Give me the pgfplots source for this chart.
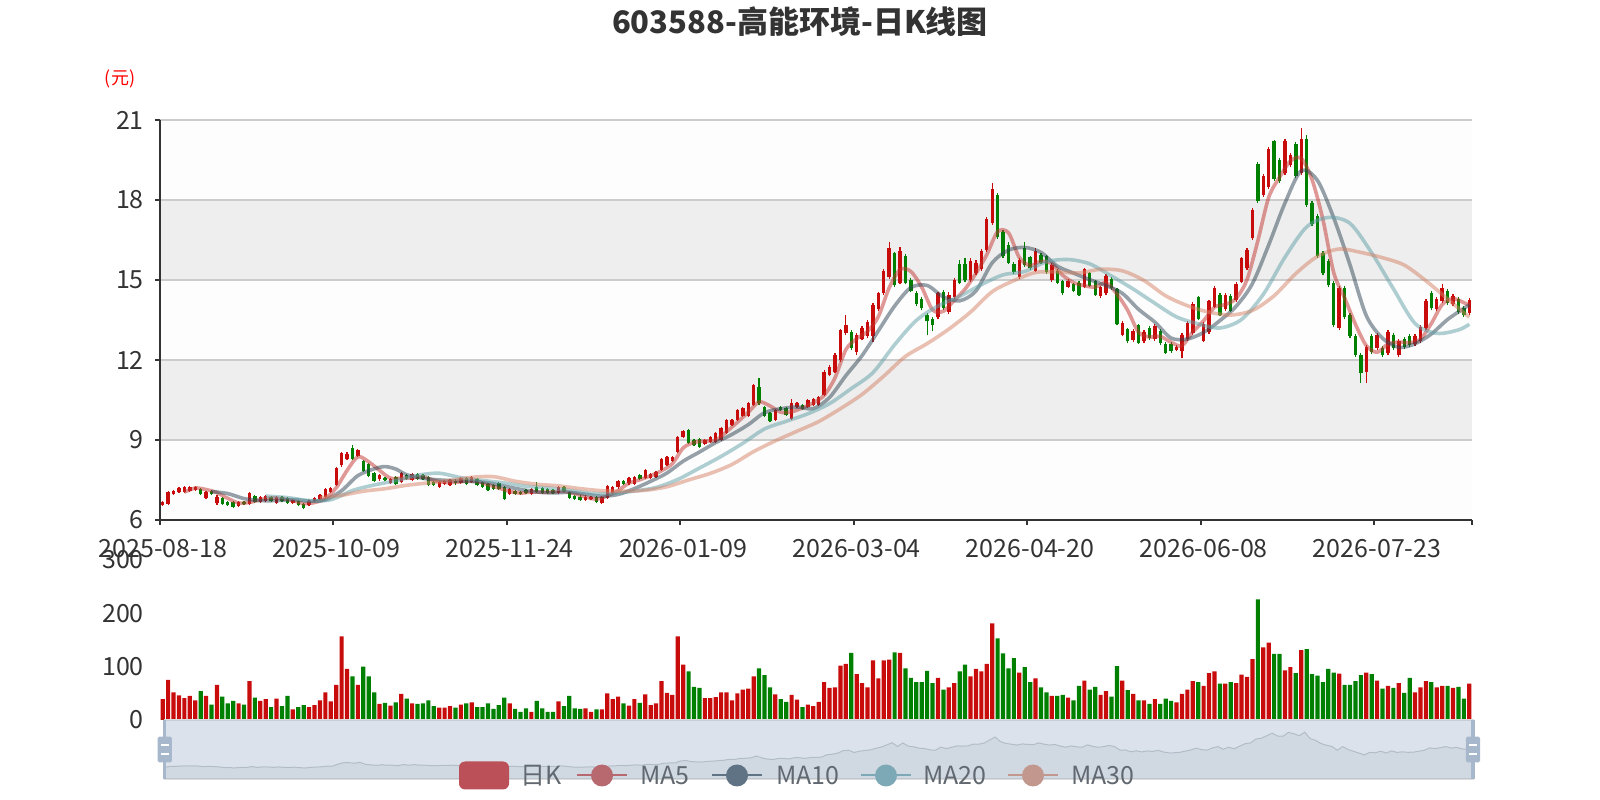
\documentclass[border=0pt]{standalone}
\usepackage{pgfplots}
\pgfplotsset{compat=1.18}
\usepackage{pgfplotstable}
\usepackage{fontspec}
\setmainfont{Noto Sans CJK SC}
\definecolor{upc}{RGB}{200,12,12}
\definecolor{dnc}{RGB}{0,128,0}
\definecolor{ma5}{HTML}{C23531}
\definecolor{ma10}{HTML}{2F4554}
\definecolor{ma20}{HTML}{61A0A8}
\definecolor{ma30}{HTML}{D48265}
\definecolor{txt}{RGB}{51,51,51}
\definecolor{gridc}{RGB}{204,204,204}
\definecolor{bandA}{RGB}{253,253,253}
\definecolor{bandB}{RGB}{238,238,238}
\definecolor{selc}{HTML}{A7B7CC}
\definecolor{shc}{HTML}{2F4554}
\definecolor{lgtxt}{RGB}{97,104,112}
\definecolor{lgk}{RGB}{187,80,89}
\definecolor{lg5}{RGB}{183,105,111}
\definecolor{lg10}{RGB}{95,115,132}
\definecolor{lg20}{RGB}{125,169,182}
\definecolor{lg30}{RGB}{194,151,142}
\newcommand\tk{\fontsize{25}{30}\selectfont}

\pgfplotstableread{
i o c h l v
0 6.56 6.66 6.70 6.52 39
1 6.60 7.04 7.08 6.56 75
2 6.98 7.10 7.14 6.94 52
3 7.05 7.20 7.24 7.01 46
4 7.05 7.22 7.26 7.01 41
5 7.10 7.22 7.26 7.06 45
6 7.12 7.25 7.29 7.08 37
7 7.17 6.96 7.21 6.92 54
8 6.84 7.06 7.10 6.80 45
9 7.10 6.97 7.14 6.93 29
10 6.62 6.88 6.92 6.58 66
11 6.84 6.60 6.88 6.56 44
12 6.68 6.55 6.72 6.51 31
13 6.67 6.48 6.71 6.44 36
14 6.52 6.68 6.72 6.48 31
15 6.66 6.59 6.70 6.55 29
16 6.60 7.00 7.04 6.56 73
17 6.90 6.68 6.94 6.64 42
18 6.68 6.85 6.89 6.64 36
19 6.70 6.90 6.94 6.66 39
20 6.85 6.70 6.89 6.66 24
21 6.65 6.85 6.89 6.61 40
22 6.85 6.70 6.89 6.66 26
23 6.82 6.65 6.86 6.61 45
24 6.65 6.75 6.79 6.61 20
25 6.72 6.55 6.76 6.51 24
26 6.60 6.45 6.64 6.41 28
27 6.55 6.70 6.74 6.51 24
28 6.70 6.82 6.86 6.66 28
29 6.78 6.92 6.96 6.74 37
30 6.88 7.15 7.19 6.84 52
31 7.05 7.20 7.24 7.01 35
32 7.30 7.95 7.99 7.26 66
33 8.05 8.50 8.55 8.00 157
34 8.30 8.48 8.56 8.25 96
35 8.70 8.30 8.80 8.25 82
36 8.40 8.62 8.68 8.35 66
37 8.20 7.85 8.25 7.80 100
38 8.10 7.65 8.15 7.60 82
39 7.75 7.48 7.80 7.44 52
40 7.52 7.70 7.74 7.48 30
41 7.56 7.50 7.60 7.46 32
42 7.38 7.52 7.56 7.34 27
43 7.62 7.35 7.66 7.31 33
44 7.41 7.77 7.81 7.37 49
45 7.69 7.53 7.73 7.49 40
46 7.50 7.72 7.76 7.46 31
47 7.72 7.55 7.76 7.51 30
48 7.68 7.53 7.72 7.49 31
49 7.60 7.31 7.64 7.27 37
50 7.42 7.31 7.46 7.27 26
51 7.25 7.43 7.47 7.21 23
52 7.35 7.47 7.51 7.31 23
53 7.33 7.50 7.54 7.29 26
54 7.48 7.37 7.52 7.33 23
55 7.40 7.58 7.62 7.36 29
56 7.57 7.35 7.61 7.31 31
57 7.42 7.60 7.64 7.38 33
58 7.52 7.32 7.56 7.28 24
59 7.42 7.25 7.46 7.21 24
60 7.35 7.12 7.39 7.08 31
61 7.30 7.15 7.34 7.11 21
62 7.40 7.15 7.44 7.11 28
63 7.22 6.80 7.26 6.76 42
64 6.98 7.15 7.19 6.94 31
65 7.10 6.98 7.14 6.94 21
66 7.05 6.97 7.09 6.93 15
67 7.12 7.00 7.16 6.96 22
68 6.98 7.15 7.19 6.94 15
69 7.22 7.06 7.44 7.02 36
70 7.20 7.02 7.24 6.98 22
71 7.15 7.02 7.19 6.98 15
72 7.12 7.00 7.16 6.96 15
73 7.02 7.25 7.29 6.98 35
74 7.25 7.09 7.29 7.05 26
75 7.05 6.82 7.09 6.78 45
76 6.90 6.78 6.94 6.74 22
77 6.88 6.75 6.92 6.71 21
78 6.75 6.88 6.92 6.71 22
79 6.78 6.85 6.89 6.74 15
80 6.85 6.66 6.89 6.62 20
81 6.63 6.85 6.89 6.59 20
82 6.82 7.28 7.32 6.78 50
83 7.00 7.25 7.29 6.96 39
84 7.22 7.47 7.51 7.18 44
85 7.47 7.35 7.51 7.31 31
86 7.37 7.56 7.60 7.33 27
87 7.35 7.62 7.66 7.31 39
88 7.69 7.54 7.73 7.50 32
89 7.56 7.87 7.91 7.52 48
90 7.56 7.72 7.76 7.52 28
91 7.62 7.81 7.85 7.58 31
92 7.87 8.29 8.33 7.83 73
93 8.06 8.37 8.41 8.02 51
94 8.23 8.37 8.41 8.19 47
95 8.56 9.12 9.16 8.52 157
96 9.10 9.35 9.39 9.06 104
97 9.37 8.90 9.41 8.86 91
98 9.00 8.80 9.04 8.76 62
99 9.05 8.75 9.09 8.71 60
100 8.85 9.00 9.04 8.81 41
101 8.94 9.10 9.14 8.90 41
102 8.94 9.27 9.31 8.90 43
103 9.00 9.44 9.48 8.96 52
104 9.25 9.75 9.79 9.21 52
105 9.56 9.75 9.79 9.52 37
106 9.75 10.12 10.16 9.71 50
107 9.90 10.20 10.24 9.86 57
108 9.90 10.37 10.41 9.86 59
109 10.31 11.06 11.10 10.27 82
110 11.00 10.37 11.31 10.33 97
111 10.25 9.90 10.29 9.86 84
112 10.00 9.70 10.04 9.66 61
113 9.75 10.12 10.16 9.71 48
114 10.25 10.12 10.29 10.08 39
115 10.20 9.95 10.24 9.91 34
116 9.80 10.40 10.52 9.76 47
117 10.25 10.40 10.44 10.21 38
118 10.30 10.15 10.34 10.11 24
119 10.25 10.50 10.54 10.21 29
120 10.31 10.52 10.56 10.27 26
121 10.31 10.62 10.66 10.27 34
122 10.69 11.56 11.62 10.64 71
123 11.44 11.75 11.81 11.39 60
124 11.56 12.19 12.25 11.50 61
125 12.00 13.12 13.18 11.94 102
126 13.00 13.30 13.69 12.94 105
127 13.06 12.45 13.12 12.38 126
128 12.30 12.95 13.00 12.19 86
129 12.80 13.20 13.26 12.74 69
130 12.90 13.44 13.50 12.84 61
131 12.90 14.05 14.12 12.69 112
132 13.90 14.50 14.56 13.84 78
133 14.50 15.35 15.42 14.44 112
134 15.10 16.20 16.44 15.04 113
135 16.00 14.80 16.06 14.75 127
136 14.90 16.10 16.25 14.84 126
137 15.90 14.90 15.96 14.84 97
138 15.00 14.60 15.06 14.54 79
139 14.50 14.10 14.60 14.04 71
140 14.30 13.95 14.36 13.89 71
141 13.70 13.45 13.75 12.94 92
142 13.55 13.30 13.60 13.10 69
143 13.60 14.50 14.56 13.54 79
144 14.55 13.95 14.62 13.89 57
145 13.80 14.45 14.56 13.74 61
146 14.35 15.00 15.06 14.29 69
147 15.60 14.90 15.75 14.84 91
148 15.60 15.00 15.81 14.94 104
149 15.00 15.70 15.81 14.94 82
150 15.25 15.65 15.75 15.19 96
151 15.40 16.10 16.16 15.34 91
152 16.12 17.30 17.37 16.06 105
153 17.15 18.40 18.65 17.08 181
154 18.20 16.60 18.28 16.54 153
155 16.80 15.90 16.88 15.84 125
156 16.30 15.65 16.44 15.60 97
157 15.60 15.30 15.66 15.24 116
158 15.10 15.75 15.81 15.04 89
159 16.20 15.55 16.44 15.49 99
160 15.85 15.45 15.90 15.39 71
161 15.35 16.10 16.19 15.29 78
162 15.95 15.65 16.00 15.60 61
163 15.90 15.30 15.94 15.24 52
164 15.00 15.55 15.62 14.94 45
165 15.35 14.90 15.40 14.84 45
166 14.95 14.50 15.00 14.44 47
167 14.75 14.98 15.04 14.69 42
168 14.85 14.60 14.90 14.54 37
169 14.90 14.45 14.96 14.40 64
170 14.75 15.40 15.46 14.69 74
171 15.25 14.78 15.30 14.72 57
172 14.95 14.45 15.00 14.40 62
173 14.40 14.72 14.78 14.34 47
174 14.50 15.15 15.21 14.44 54
175 15.05 14.70 15.10 14.64 44
176 14.65 13.35 14.70 13.30 101
177 12.95 13.40 13.46 12.89 74
178 13.15 12.70 13.20 12.64 56
179 12.75 13.10 13.16 12.69 49
180 13.30 12.65 13.36 12.59 37
181 12.70 13.05 13.11 12.64 37
182 13.20 12.82 13.26 12.76 30
183 12.78 13.28 13.34 12.72 39
184 13.10 12.62 13.16 12.56 30
185 12.60 12.28 12.66 12.22 40
186 12.60 12.32 12.66 12.26 36
187 12.38 12.50 12.56 12.32 33
188 12.35 12.95 13.00 12.06 49
189 12.78 13.40 13.46 12.72 57
190 13.00 14.10 14.16 12.94 73
191 14.35 13.55 14.40 13.49 71
192 12.72 13.35 13.41 12.66 64
193 13.05 14.20 14.26 12.99 88
194 14.00 14.70 14.76 13.94 91
195 14.45 13.70 14.50 13.64 68
196 13.90 14.45 14.51 13.84 68
197 14.40 13.85 14.46 13.79 71
198 14.25 14.85 14.91 14.19 69
199 14.94 15.81 15.88 14.88 85
200 15.44 16.12 16.20 15.38 81
201 16.56 17.62 17.70 16.50 114
202 19.35 17.95 19.42 17.88 226
203 18.20 18.90 18.98 18.12 136
204 18.50 19.90 20.00 18.42 145
205 20.20 18.80 20.26 18.72 124
206 19.50 18.70 19.58 18.62 124
207 19.00 20.20 20.28 18.92 93
208 19.30 19.70 19.78 19.22 99
209 20.10 18.90 20.18 18.82 88
210 19.00 20.30 20.70 18.92 131
211 20.30 17.80 20.45 17.72 133
212 17.90 17.10 17.98 17.02 86
213 17.40 15.90 17.48 15.82 83
214 16.00 15.25 16.08 15.17 71
215 15.70 14.80 15.78 14.72 96
216 14.90 13.30 14.98 13.22 89
217 13.20 14.70 14.78 13.12 87
218 14.70 13.60 14.78 13.52 66
219 13.70 12.90 13.78 12.82 66
220 12.90 12.20 12.98 12.12 73
221 12.20 11.50 12.28 11.15 84
222 11.55 12.50 12.58 11.13 89
223 12.90 12.30 12.98 12.22 86
224 12.45 12.95 13.03 12.37 74
225 12.45 12.20 12.53 12.12 59
226 12.25 13.05 13.13 12.17 64
227 12.95 12.45 13.03 12.37 60
228 12.20 12.70 12.78 12.12 69
229 12.80 12.50 12.88 12.42 51
230 12.90 12.55 12.98 12.47 79
231 12.60 12.90 12.98 12.52 52
232 12.70 13.25 13.33 12.62 61
233 13.20 14.20 14.28 13.12 73
234 14.50 13.95 14.58 13.87 71
235 13.90 14.30 14.38 13.82 61
236 14.20 14.70 14.85 14.12 64
237 14.60 14.15 14.68 14.07 64
238 14.10 14.40 14.48 14.02 60
239 14.30 13.80 14.38 13.72 62
240 13.95 13.70 14.03 13.62 40
241 13.75 14.25 14.33 13.67 68
}\kdata

\pgfplotstableread{
i m
4 7.044
6 7.198
8 7.142
10 7.024
12 6.812
14 6.638
16 6.660
18 6.760
20 6.826
22 6.800
24 6.730
26 6.620
28 6.654
30 6.808
32 7.208
34 7.856
36 8.370
38 8.180
40 7.860
42 7.570
44 7.568
46 7.578
48 7.620
50 7.484
52 7.410
54 7.416
56 7.454
58 7.444
60 7.328
62 7.198
64 7.074
66 7.010
68 7.050
70 7.040
72 7.050
74 7.076
76 6.988
78 6.864
80 6.784
82 6.904
84 7.102
86 7.382
88 7.508
90 7.662
92 7.846
94 8.112
96 8.700
98 8.908
100 8.960
102 8.984
104 9.312
106 9.666
108 10.038
110 10.424
112 10.280
114 10.042
116 10.058
118 10.204
120 10.394
122 10.670
124 11.328
126 12.384
128 12.802
130 13.068
132 13.628
134 14.708
136 15.390
138 15.320
140 14.730
142 13.880
144 13.830
146 14.240
148 14.660
150 15.250
152 15.950
154 16.810
156 16.770
158 15.840
160 15.540
162 15.700
164 15.610
166 15.180
168 14.906
170 14.786
172 14.736
174 14.900
176 14.474
178 13.860
180 13.040
182 12.864
184 12.884
186 12.664
188 12.534
190 13.054
192 13.470
194 13.980
196 14.080
198 14.310
200 15.016
202 16.470
204 18.098
206 18.850
208 19.460
210 19.560
212 18.760
214 17.270
216 15.270
218 14.330
220 13.340
222 12.540
224 12.290
226 12.600
228 12.670
230 12.650
232 12.780
234 13.370
236 14.080
238 14.300
240 14.150
241 14.060
}\maA

\pgfplotstableread{
i m
9 7.068
12 6.991
15 6.802
18 6.728
21 6.728
24 6.767
27 6.710
30 6.754
33 7.099
36 7.664
39 7.918
41 8.003
43 7.910
45 7.697
48 7.565
51 7.502
54 7.472
57 7.445
60 7.399
63 7.269
66 7.149
69 7.053
72 7.015
75 7.038
78 6.967
81 6.893
84 6.959
87 7.177
90 7.451
93 7.760
96 8.206
99 8.548
102 8.903
105 9.211
108 9.575
111 10.023
114 10.171
117 10.239
120 10.176
123 10.597
126 11.411
129 12.166
132 13.095
135 14.024
138 14.714
141 14.795
144 14.365
147 14.220
150 14.590
153 15.645
156 16.120
159 16.220
162 16.035
165 15.520
168 15.258
171 15.011
174 14.793
177 14.500
180 13.900
183 13.420
186 12.822
189 12.787
192 13.035
195 13.477
198 14.015
201 14.865
204 16.315
207 17.885
210 19.097
213 18.730
216 17.325
219 15.565
222 13.665
225 12.815
228 12.475
231 12.610
234 12.975
237 13.520
240 13.935
241 14.070
}\maB

\pgfplotstableread{
i m
19 6.895
23 6.840
27 6.730
31 6.759
35 7.105
39 7.314
43 7.472
47 7.678
51 7.753
55 7.587
59 7.483
63 7.391
67 7.267
71 7.201
75 7.113
79 7.000
83 6.991
87 7.086
91 7.220
95 7.520
99 7.947
103 8.385
107 8.876
111 9.414
115 9.701
119 9.984
123 10.366
127 10.928
131 11.525
135 12.573
139 13.485
143 14.023
147 14.385
151 14.825
155 15.193
159 15.320
163 15.685
167 15.767
171 15.606
175 15.147
179 14.662
183 14.127
187 13.616
191 13.355
195 13.201
199 13.522
203 14.461
207 15.855
211 16.990
215 17.345
219 17.122
223 16.018
227 14.670
231 13.368
235 13.000
239 13.128
241 13.340
}\maC

\pgfplotstableread{
i m
29 6.833
33 6.926
37 7.079
41 7.173
45 7.302
49 7.392
53 7.485
57 7.600
61 7.625
65 7.454
69 7.340
73 7.280
77 7.176
81 7.098
85 7.079
89 7.115
93 7.247
97 7.502
101 7.748
105 8.083
109 8.566
113 8.968
117 9.330
121 9.692
125 10.174
129 10.711
133 11.395
137 12.135
141 12.615
145 13.158
149 13.797
153 14.563
157 14.976
161 15.283
165 15.302
169 15.263
173 15.401
177 15.344
181 14.979
185 14.406
189 14.037
193 13.793
197 13.686
201 13.858
205 14.409
209 15.241
213 15.884
217 16.162
221 16.035
225 15.835
229 15.560
233 14.970
237 14.287
241 13.602
}\maD

\begin{document}
\begin{tikzpicture}[x=1pt,y=1pt]
\path[use as bounding box] (0,0) rectangle (1600,800);

% ---------- main candlestick axis ----------
\begin{axis}[
  at={(160pt,280pt)}, anchor=south west,
  width=1312pt, height=400pt, scale only axis,
  xmin=-0.5, xmax=241.5, ymin=6, ymax=21,
  axis x line*=bottom, axis y line*=left,
  axis line style={-, draw=txt, line width=2pt},
  axis on top,
  clip mode=individual,
  xtick={0,32,64,96,128,160,192,224},
  xticklabels={2025-08-18,2025-10-09,2025-11-24,2026-01-09,2026-03-04,2026-04-20,2026-06-08,2026-07-23},
  ytick={6,9,12,15,18,21},
  major tick length=0pt,
  ticklabel style={font=\tk, text=txt},
  xticklabel style={anchor=north, inner sep=0pt, yshift=-19pt},
  yticklabel style={anchor=east, inner sep=0pt, xshift=-16pt},
  /pgf/number format/assume math mode=true,
]
\fill[bandA] (axis cs:-0.5,6) rectangle (axis cs:241.5,9);
\fill[bandB] (axis cs:-0.5,9) rectangle (axis cs:241.5,12);
\fill[bandA] (axis cs:-0.5,12) rectangle (axis cs:241.5,15);
\fill[bandB] (axis cs:-0.5,15) rectangle (axis cs:241.5,18);
\fill[bandA] (axis cs:-0.5,18) rectangle (axis cs:241.5,21);
\pgfplotsinvokeforeach{9,12,15,18,21}{\draw[gridc, line width=2pt] (axis cs:-0.5,#1) -- (axis cs:241.5,#1);}
\pgfplotsinvokeforeach{6,9,12,15,18,21}{\draw[txt, line width=2pt] (axis cs:-0.5,#1) -- ++(-5pt,0pt);}
\pgfplotsinvokeforeach{-0.5,31.5,63.5,95.5,127.5,159.5,191.5,223.5,241.5}{\draw[txt, line width=2pt] (axis cs:#1,6) -- ++(0pt,-5pt);}

% wicks
\addplot[-, upc, line width=1.2pt, quiver={u=0, v={\thisrow{c}>=\thisrow{o} ? \thisrow{h}-\thisrow{l} : 0}}] table[x=i, y=l] {\kdata};
\addplot[-, dnc, line width=1.2pt, quiver={u=0, v={\thisrow{c}<\thisrow{o} ? \thisrow{h}-\thisrow{l} : 0}}] table[x=i, y=l] {\kdata};
% bodies
\addplot[-, upc, line width=3.4pt, quiver={u=0, v={\thisrow{c}>=\thisrow{o} ? \thisrow{c}-\thisrow{o} : 0}}] table[x=i, y=o] {\kdata};
\addplot[-, dnc, line width=3.4pt, quiver={u=0, v={\thisrow{c}<\thisrow{o} ? \thisrow{o}-\thisrow{c} : 0}}] table[x=i, y=c] {\kdata};

% moving averages
\addplot[ma5, line width=3.6pt, opacity=0.5, smooth, line join=round] table[x=i, y=m] {\maA};
\addplot[ma10, line width=3.6pt, opacity=0.5, smooth, line join=round] table[x=i, y=m] {\maB};
\addplot[ma20, line width=3.6pt, opacity=0.5, smooth, line join=round] table[x=i, y=m] {\maC};
\addplot[ma30, line width=3.6pt, opacity=0.5, smooth, line join=round] table[x=i, y=m] {\maD};
\end{axis}

% ---------- volume axis ----------
\begin{axis}[
  at={(160pt,80pt)}, anchor=south west,
  width=1312pt, height=160pt, scale only axis,
  xmin=-0.5, xmax=241.5, ymin=0, ymax=300,
  axis line style={draw=none},
  xtick=\empty, ytick={0,100,200,300},
  major tick length=0pt,
  ticklabel style={font=\tk, text=txt},
  yticklabel style={anchor=east, inner sep=0pt, xshift=-16pt},
  /pgf/number format/assume math mode=true,
]
\addplot[ybar, bar width=4.2pt, bar shift=0pt, fill=upc, draw=none] table[x=i, y expr={\thisrow{c}>=\thisrow{o} ? \thisrow{v} : 0}] {\kdata};
\addplot[ybar, bar width=4.2pt, bar shift=0pt, fill=dnc, draw=none] table[x=i, y expr={\thisrow{c}<\thisrow{o} ? \thisrow{v} : 0}] {\kdata};
\end{axis}

% ---------- data zoom slider ----------
\draw[line width=1.2pt, color={rgb,255:red,221;green,221;blue,221}] (164.5,21) rectangle (1473,80);
\begin{axis}[
  at={(164.5pt,21pt)}, anchor=south west,
  width=1308.5pt, height=59pt, scale only axis,
  xmin=0, xmax=241, ymin=2.17, ymax=24.98,
  hide axis,
]
\addplot[draw=none, fill=shc, fill opacity=0.09] table[x=i, y=c] {\kdata} \closedcycle;
\addplot[shc, draw opacity=0.3, line width=1pt] table[x=i, y=c] {\kdata};
\end{axis}
\fill[selc, fill opacity=0.4] (164.5,21) rectangle (1473,80);
% handles
\foreach \hx in {164.8,1473} {
  \fill[selc] (\hx-1.6,21) rectangle (\hx+1.6,80);
  \fill[selc, rounded corners=1.5pt] (\hx-7.15,37.7) rectangle (\hx+7.15,63.3);
  \fill[white] (\hx-4.2,53.9) rectangle (\hx+4.2,56.3);
  \fill[white] (\hx-4.2,44.7) rectangle (\hx+4.2,47.1);
}

% ---------- legend ----------
\fill[lgk, rounded corners=6pt] (459,10.5) rectangle (509,38.5);
\node[anchor=base west, inner sep=0pt, font=\tk, text=lgtxt] at (520,15.3) {日K};
\draw[lg5, line width=2pt] (577,24.5) -- (627,24.5);
\fill[lg5] (602,24.5) circle (11);
\node[anchor=base west, inner sep=0pt, font=\tk, text=lgtxt] at (640,15.3) {MA5};
\draw[lg10, line width=2pt] (712,24.5) -- (762,24.5);
\fill[lg10] (737,24.5) circle (11);
\node[anchor=base west, inner sep=0pt, font=\tk, text=lgtxt] at (776,15.3) {MA10};
\draw[lg20, line width=2pt] (861,24.5) -- (911,24.5);
\fill[lg20] (886,24.5) circle (11);
\node[anchor=base west, inner sep=0pt, font=\tk, text=lgtxt] at (923,15.3) {MA20};
\draw[lg30, line width=2pt] (1008,24.5) -- (1058,24.5);
\fill[lg30] (1033,24.5) circle (11);
\node[anchor=base west, inner sep=0pt, font=\tk, text=lgtxt] at (1071,15.3) {MA30};

% ---------- titles ----------
\node[font=\fontsize{31}{36}\selectfont\bfseries, text=txt] at (800,778) {603588-高能环境-日K线图};
\node[font=\fontsize{18}{22}\selectfont, text=red] at (120,721.4) {(元)};
\end{tikzpicture}
\end{document}
